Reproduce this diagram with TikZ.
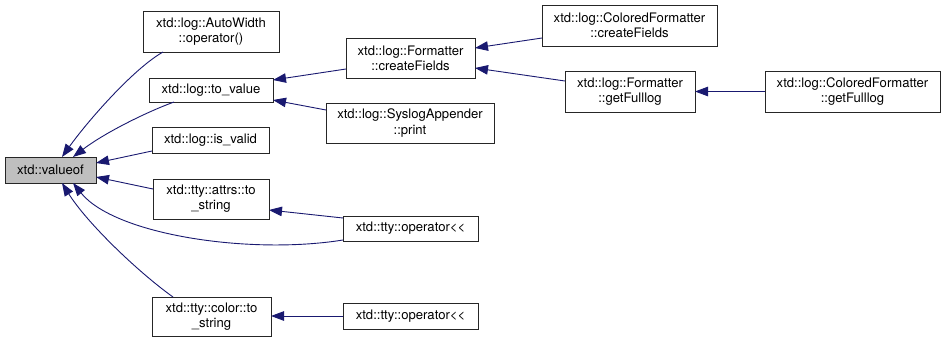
\documentclass[tikz,border=0pt]{standalone}
\usepackage{fontspec}
\setmainfont{TeX Gyre Heros}
\usetikzlibrary{arrows.meta}
\definecolor{edgeblue}{HTML}{191970}
\definecolor{hilite}{HTML}{BFBFBF}
\begin{document}
\begin{tikzpicture}[x=1pt,y=-1pt,
  fn/.style={draw=black!85,line width=0.9pt,fill=white,inner sep=0pt,outer sep=0pt,
    align=center,font=\fontsize{13.1}{15.2}\selectfont},
  focus/.style={fn,fill=hilite},
  call/.style={draw=edgeblue,line width=0.9pt,
    -{Triangle[length=13pt,width=9.5pt]},edgeblue}]
\useasboundingbox (0,0) rectangle (945,343);

% functions
\node[focus,minimum width=91pt,minimum height=26pt] (vo) at (50.5,170) {xtd::valueof};
\node[fn,minimum width=136pt,minimum height=41pt] (aw) at (211,31.5) {xtd::log::AutoWidth\\::operator()};
\node[fn,minimum width=124pt,minimum height=24pt] (tv) at (211,90) {xtd::log::to\_value};
\node[fn,minimum width=117pt,minimum height=26pt] (iv) at (210.5,140) {xtd::log::is\_valid};
\node[fn,minimum width=116pt,minimum height=40pt] (at) at (211,199) {xtd::tty::attrs::to\\\_string};
\node[fn,minimum width=119pt,minimum height=39pt] (cs) at (211.5,316.5) {xtd::tty::color::to\\\_string};
\node[fn,minimum width=129pt,minimum height=40pt] (cf) at (410.5,58) {xtd::log::Formatter\\::createFields};
\node[fn,minimum width=168pt,minimum height=40pt] (sa) at (410,123) {xtd::log::SyslogAppender\\::print};
\node[fn,minimum width=135pt,minimum height=25pt] (o1) at (410.5,228.5) {xtd::tty::operator<{}<};
\node[fn,minimum width=135pt,minimum height=26pt] (o2) at (410.5,316) {xtd::tty::operator<{}<};
\node[fn,minimum width=175pt,minimum height=41pt] (ccf) at (629.5,25.5) {xtd::log::ColoredFormatter\\::createFields};
\node[fn,minimum width=130pt,minimum height=41pt] (gf) at (630,91.5) {xtd::log::Formatter\\::getFulllog};
\node[fn,minimum width=175pt,minimum height=41pt] (cgf) at (852.5,91.5) {xtd::log::ColoredFormatter\\::getFulllog};

% calls into xtd::valueof
\draw[call] ([xshift=20pt]aw.south west) .. controls (133,69) and (87,122) .. ([xshift=57pt]vo.north west);
\draw[call] ([xshift=25pt]tv.south west) .. controls (144,113) and (103,134) .. ([xshift=68pt]vo.north west);
\draw[call] ([yshift=2pt]iv.south west) -- ([yshift=-6pt]vo.north east);
\draw[call] ([yshift=-10pt]at.north west) -- ([yshift=6pt]vo.south east);
\draw[call] ([yshift=1pt]o1.south west) .. controls (250,255) and (115,235) .. ([xshift=68pt]vo.south west);
\draw[call] ([xshift=21pt]cs.north west) .. controls (138,272) and (87,223) .. ([xshift=57pt]vo.south west);

% further callers
\draw[call] ([yshift=9pt]cf.south west) -- ([yshift=-2pt]tv.north east);
\draw[call] ([yshift=-7pt]sa.north west) -- ([yshift=2pt]tv.south east);
\draw[call] ([yshift=8pt]ccf.south west) -- ([yshift=-10pt]cf.north east);
\draw[call] ([yshift=-10pt]gf.north west) -- ([yshift=10pt]cf.south east);
\draw[call] (cgf.west) -- (gf.east);
\draw[call] ([yshift=-2pt]o1.north west) -- ([yshift=9pt]at.south east);
\draw[call] (o2.west) -- (o2.west -| cs.east);
\end{tikzpicture}
\end{document}
